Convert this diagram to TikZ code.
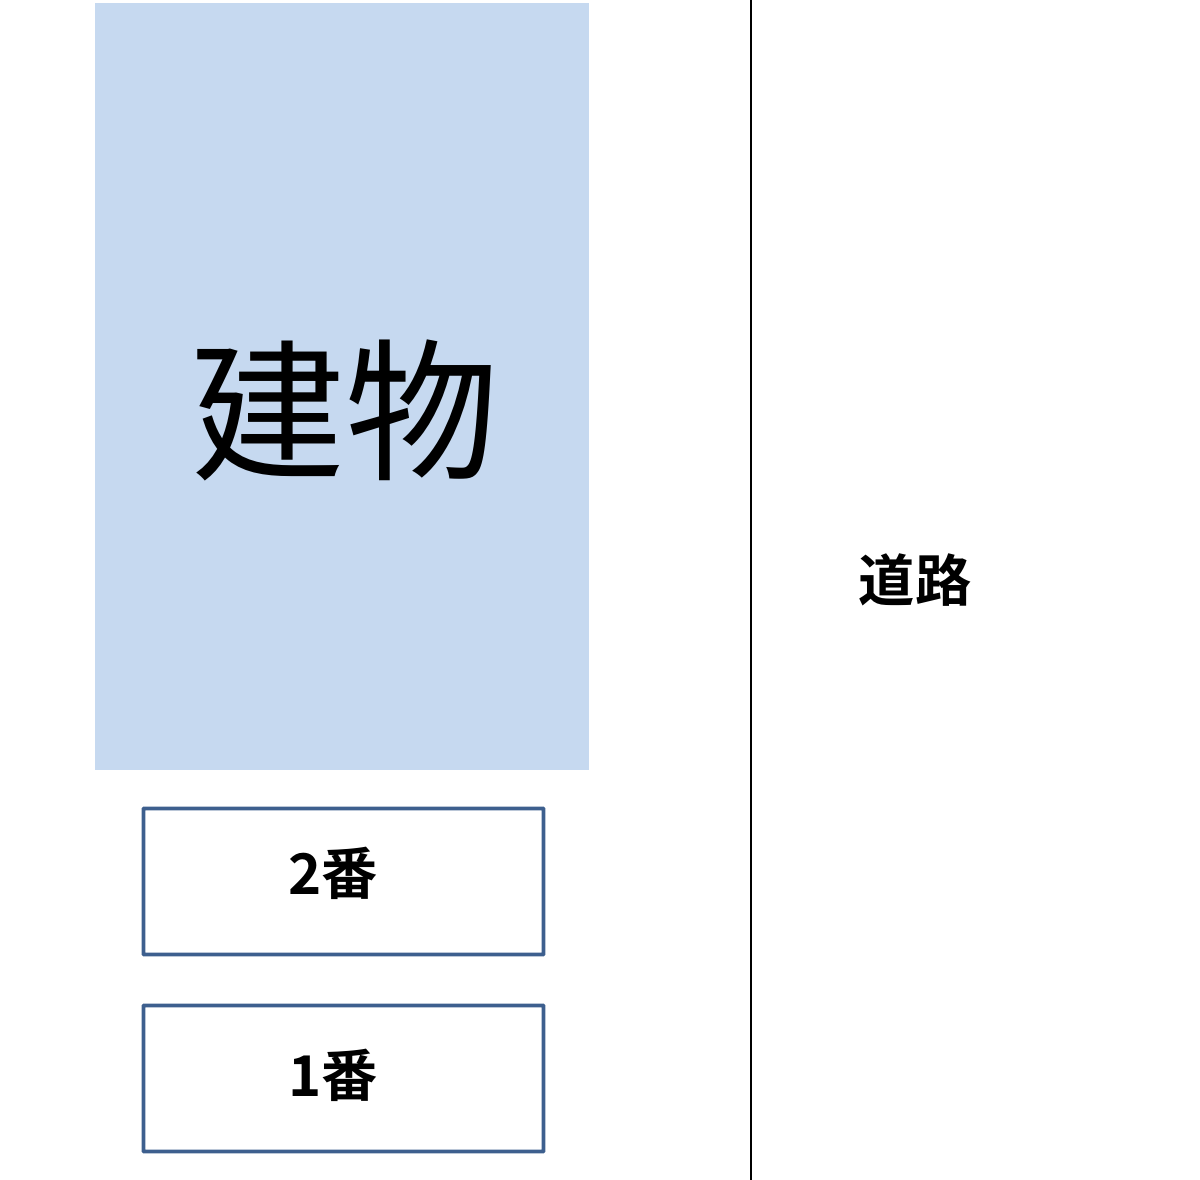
\documentclass[tikz,border=0pt]{standalone}
\usepackage{fontspec}
\usepackage{xcolor}
\usepackage{tikz}
\usetikzlibrary{positioning}
\newfontfamily\jpfont[BoldFont={Noto Sans CJK JP Bold}]{Noto Sans CJK JP}
\definecolor{bldblue}{RGB}{198,217,240}
\definecolor{boxblue}{RGB}{61,95,142}

\begin{document}
\begin{tikzpicture}[x=0.5mm,y=-0.5mm,
	lot/.style={draw=boxblue,line width=5.5pt,fill=white,rounded corners=1pt,minimum width=200mm,minimum height=73mm,inner sep=0pt},
	jptext/.style={font=\jpfont\bfseries\fontsize{80}{90}\selectfont,text=black}]
	\useasboundingbox (0,0) rectangle (1200,1180);
	\fill[bldblue] (95,3) rectangle (589,770);
	\node[font=\jpfont\fontsize{218}{240}\selectfont] (bld) at (345,410) {建物};
	\draw[line width=2.8pt,black] (751,0) coordinate (rtop)--(751,1180) coordinate (rbot);
	\node[jptext] (road) at (915,580) {道路};
	\node[lot] (lot2) at (343.5,881.5) {};
	\node[jptext] at (333,873) {2番};
	\node[lot] (lot1) at (343.5,1078.5) {};
	\node[jptext] at (333,1075) {1番};
\end{tikzpicture}
\end{document}
